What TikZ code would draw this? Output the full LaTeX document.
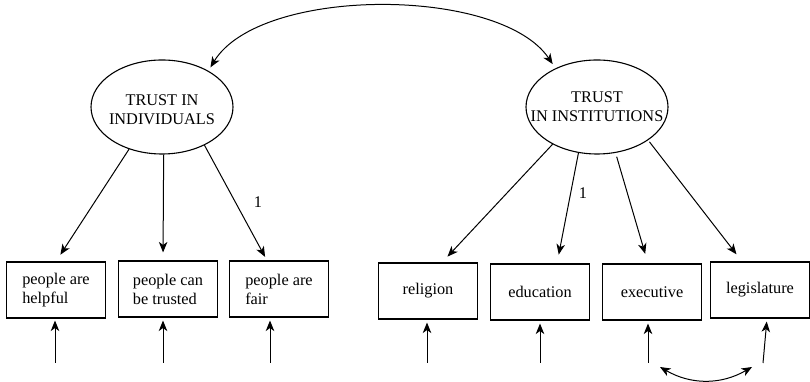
\documentclass[tikz,border=0pt]{standalone}
\usepackage{fontspec}
\setmainfont{Liberation Serif}
\usetikzlibrary{shapes.geometric,arrows.meta}

\begin{document}
\begin{tikzpicture}[x=1pt, y=1pt, >={Stealth[length=10.5pt,width=8.5pt,inset=3pt]},
  every node/.style={font=\fontsize{16.3}{19}\selectfont},
  latent/.style={shape=ellipse, draw=black, line width=1.1pt, minimum width=142pt, minimum height=94pt, inner sep=0pt},
  observed/.style={shape=rectangle, draw=black, line width=1.1pt, minimum width=99pt, minimum height=56pt, align=left},
  load/.style={->, line width=1pt, draw=black}]
\useasboundingbox (0,0) rectangle (810,382);
% factors
\node[latent] (indiv) at (162,275) {};
\node[align=center] (indivtext) at ([yshift=-3pt]indiv) {TRUST IN\\INDIVIDUALS};
\node[latent] (instit) at (597,275) {};
\node[align=center] (instittext) at (instit) {TRUST\\IN INSTITUTIONS};
% indicators
\node[observed] (helpful) at (56,92) {people are\\helpful};
\node[observed] (trusted) at (168,93) {people can\\be trusted};
\node[observed] (fair) at (279,93) {people are\\fair};
\node[observed] (religion) at (428,91) {religion};
\node[observed] (education) at (540,90) {education};
\node[observed] (executive) at (652,90) {executive};
\node[observed] (legislature) at (760,92) {legislature};
% fixed loadings
\node (oneindiv) at (258,180) {1};
\node (oneinstit) at (583,189) {1};
% error terms
\coordinate (e1) at (55,19);
\coordinate (e2) at (163,19);
\coordinate (e3) at (270,19);
\coordinate (e4) at (427,19);
\coordinate (e5) at (540,19);
\coordinate (e6) at (648,19);
\coordinate (e7) at (763,19);
\coordinate (c1) at (660,15);
\coordinate (c2) at (752,15);
% loadings
\path (indiv.-128) edge[load, shorten >=8pt] (helpful.north);
\path (indiv.-88) edge[load, shorten >=8pt] ([xshift=-5pt]trusted.north);
\path (indiv.-42) edge[load, shorten >=4pt] ([xshift=-12pt]fair.north);
\path (instit.-140) edge[load, shorten >=8pt] ([xshift=14pt]religion.north);
\path (instit.-112) edge[load, shorten >=9pt] ([xshift=17pt]education.north);
\path (instit.-68) edge[load, shorten <=4pt, shorten >=10pt] ([xshift=-4pt]executive.north);
\path (instit.-33) edge[load, shorten <=2pt, shorten >=9pt] ([xshift=-18pt]legislature.north);
% errors
\path (e1) edge[load, shorten >=2pt] (e1 |- helpful.south);
\path (e2) edge[load, shorten >=3pt] (e2 |- trusted.south);
\path (e3) edge[load, shorten >=3pt] (e3 |- fair.south);
\path (e4) edge[load, shorten >=3pt] (e4 |- religion.south);
\path (e5) edge[load, shorten >=3pt] (e5 |- education.south);
\path (e6) edge[load, shorten >=3pt] (e6 |- executive.south);
\path (e7) edge[load, shorten >=3pt] ([xshift=7pt]legislature.south);
% covariances
\draw [<->, line width=1pt, shorten <=4pt, shorten >=5pt] (indiv.38) .. controls (260,396) and (500,396) .. (instit.137);
\path (c1) edge[<->, line width=1pt, draw=black, bend right=30] (c2);
\end{tikzpicture}
\end{document}
